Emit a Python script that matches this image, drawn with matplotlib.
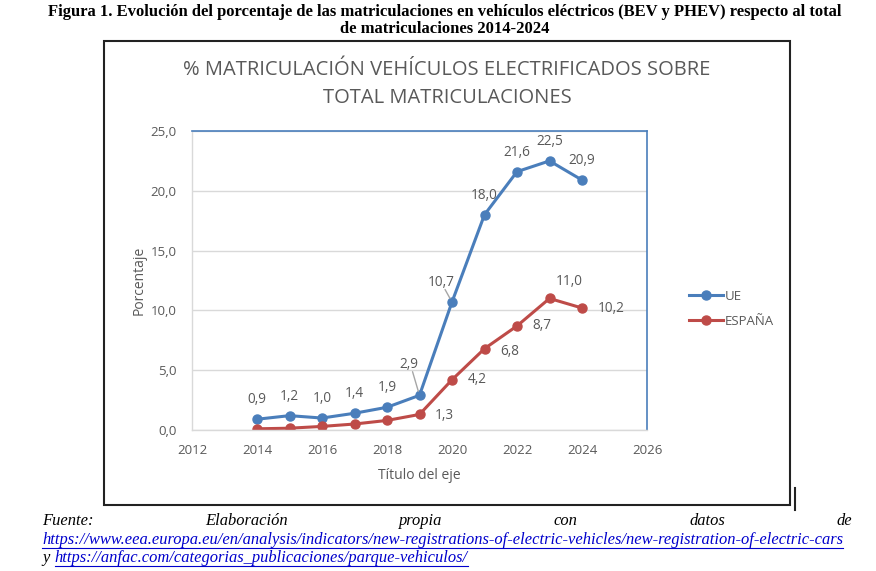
import matplotlib
matplotlib.use("Agg")
import matplotlib.pyplot as plt
from matplotlib.lines import Line2D
from matplotlib.patches import Rectangle

years = [2014, 2015, 2016, 2017, 2018, 2019, 2020, 2021, 2022, 2023, 2024]
ue = [0.9, 1.2, 1.0, 1.4, 1.9, 2.9, 10.7, 18.0, 21.6, 22.5, 20.9]
espana = [0.1, 0.15, 0.3, 0.5, 0.8, 1.3, 4.2, 6.8, 8.7, 11.0, 10.2]
ue_labels = ["0,9", "1,2", "1,0", "1,4", "1,9", "2,9", "10,7", "18,0", "21,6", "22,5", "20,9"]
es_labels = [None, None, None, None, None, "1,3", "4,2", "6,8", "8,7", "11,0", "10,2"]
yticks = [0, 5, 10, 15, 20, 25]
ytick_labels = ["0,0", "5,0", "10,0", "15,0", "20,0", "25,0"]
xticks = [2012, 2014, 2016, 2018, 2020, 2022, 2024, 2026]
series_names = ["UE", "ESPAÑA"]

W, H = 876, 571
fig = plt.figure(figsize=(W / 100, H / 100), dpi=100)
fig.patch.set_facecolor("white")

def fx(px):
    return px / W

def fy(py):
    return 1 - py / H

BLUE = "#4A7EBB"
RED = "#BE4B48"
GRAY = "#595959"
FONT = "Open Sans"

# outer chart frame
fig.patches.append(Rectangle((fx(104), fy(505)), fx(790) - fx(104), fy(41) - fy(505),
                             transform=fig.transFigure, fill=False, edgecolor="#222222",
                             linewidth=1.5))
fig.lines.append(Line2D([fx(795), fx(795)], [fy(488), fy(510)], transform=fig.transFigure,
                        color="#222222", linewidth=1.5))

ax = fig.add_axes([fx(192), fy(430), fx(647) - fx(192), fy(131) - fy(430)])
ax.set_xlim(2012, 2026)
ax.set_ylim(0, 25)
ax.set_yticks(yticks)
ax.set_yticklabels(ytick_labels)
ax.set_xticks(xticks)
ax.tick_params(length=0, labelsize=9.5, labelcolor=GRAY)
ax.tick_params(axis="y", pad=11)
ax.tick_params(axis="x", pad=10)
for lab in ax.get_xticklabels() + ax.get_yticklabels():
    lab.set_fontfamily(FONT)
ax.grid(axis="y", color="#D9D9D9", linewidth=1)
ax.set_axisbelow(True)
for s in ["top", "right"]:
    ax.spines[s].set_color(BLUE)
    ax.spines[s].set_linewidth(1.2)
for s in ["left", "bottom"]:
    ax.spines[s].set_color("#D9D9D9")
    ax.spines[s].set_linewidth(1)

ax.plot(years, ue, color=BLUE, linewidth=2.2, marker="o", markersize=6.5, label=series_names[0])
ax.plot(years, espana, color=RED, linewidth=2.2, marker="o", markersize=6.5, label=series_names[1])

# data labels (offsets in points)
ue_off = [(0, 14), (0, 14), (0, 14), (0, 14), (0, 14), (-8, 22), (-8, 14), (0, 14), (0, 14), (0, 14), (0, 14)]
for x, y, t, (dx, dy) in zip(years, ue, ue_labels, ue_off):
    ax.annotate(t, (x, y), xytext=(dx, dy), textcoords="offset points", ha="center", va="center",
                fontsize=9.8, color=GRAY, family=FONT)
# leader lines
ax.annotate("", (years[5], ue[5]), xytext=(-5, 17), textcoords="offset points",
            arrowprops=dict(arrowstyle="-", color="#A6A6A6", lw=1, shrinkA=0, shrinkB=3))
ax.annotate("", (years[6], ue[6]), xytext=(-5, 9), textcoords="offset points",
            arrowprops=dict(arrowstyle="-", color="#A6A6A6", lw=1, shrinkA=0, shrinkB=3))

es_off = [None, None, None, None, None, (18, -1), (18, 0), (18, -2), (18, 0), (14, 12), (21, 0)]
for x, y, t, off in zip(years, espana, es_labels, es_off):
    if t is None:
        continue
    ax.annotate(t, (x, y), xytext=off, textcoords="offset points", ha="center", va="center",
                fontsize=9.8, color=GRAY, family=FONT)

ax.set_ylabel("Porcentaje", fontsize=10, color=GRAY, family=FONT, labelpad=3)
ax.set_xlabel("Título del eje", fontsize=10, color=GRAY, family=FONT, labelpad=8)

leg = fig.legend(loc="center left", bbox_to_anchor=(fx(677), fy(309)), frameon=False,
                 prop={"family": FONT, "size": 9.5}, handlelength=2.6, labelspacing=0.9,
                 handletextpad=0.15, labelcolor=GRAY)

fig.text(fx(447), fy(70), "% MATRICULACIÓN VEHÍCULOS ELECTRIFICADOS SOBRE", ha="center", va="center",
         fontsize=14.5, color=GRAY, family=FONT)
fig.text(fx(447), fy(98), "TOTAL MATRICULACIONES", ha="center", va="center",
         fontsize=14.5, color=GRAY, family=FONT)

# document caption
fig.text(fx(445), fy(12), "Figura 1. Evolución del porcentaje de las matriculaciones en vehículos eléctricos (BEV y PHEV) respecto al total",
         ha="center", va="center", fontsize=12, fontweight="bold", family="Liberation Serif")
fig.text(fx(445), fy(29), "de matriculaciones 2014-2024",
         ha="center", va="center", fontsize=12, fontweight="bold", family="Liberation Serif")

# source text
SRC = 11.9
fig.canvas.draw()
renderer = fig.canvas.get_renderer()
words = ["Fuente:", "Elaboración", "propia", "con", "datos", "de"]
objs = [fig.text(0, fy(521), w, ha="left", va="center", fontsize=SRC, style="italic",
                 family="Liberation Serif") for w in words]
widths = [o.get_window_extent(renderer).width for o in objs]
left, right = 42, 852
gap = (right - left - sum(widths)) / (len(words) - 1)
xpos = left
for o, w in zip(objs, widths):
    o.set_x(fx(xpos))
    xpos += w + gap

LINK = "#0000CC"
def link(xpx, ypx, s):
    t = fig.text(fx(xpx), fy(ypx), s, ha="left", va="center", fontsize=SRC, style="italic",
                 family="Liberation Serif", color=LINK)
    bb = t.get_window_extent(renderer)
    fig.lines.append(Line2D([fx(bb.x0), fx(bb.x1)], [fy(ypx + 8), fy(ypx + 8)],
                            transform=fig.transFigure, color=LINK, linewidth=0.8))
    return bb

link(42, 540, "https://www.eea.europa.eu/en/analysis/indicators/new-registrations-of-electric-vehicles/new-registration-of-electric-cars")
ty = fig.text(fx(42), fy(558), "y ", ha="left", va="center", fontsize=SRC, style="italic",
              family="Liberation Serif")
bb = ty.get_window_extent(renderer)
link(bb.x1 + 1, 558, "https://anfac.com/categorias_publicaciones/parque-vehiculos/")

fig.savefig("out.png", dpi=100)
